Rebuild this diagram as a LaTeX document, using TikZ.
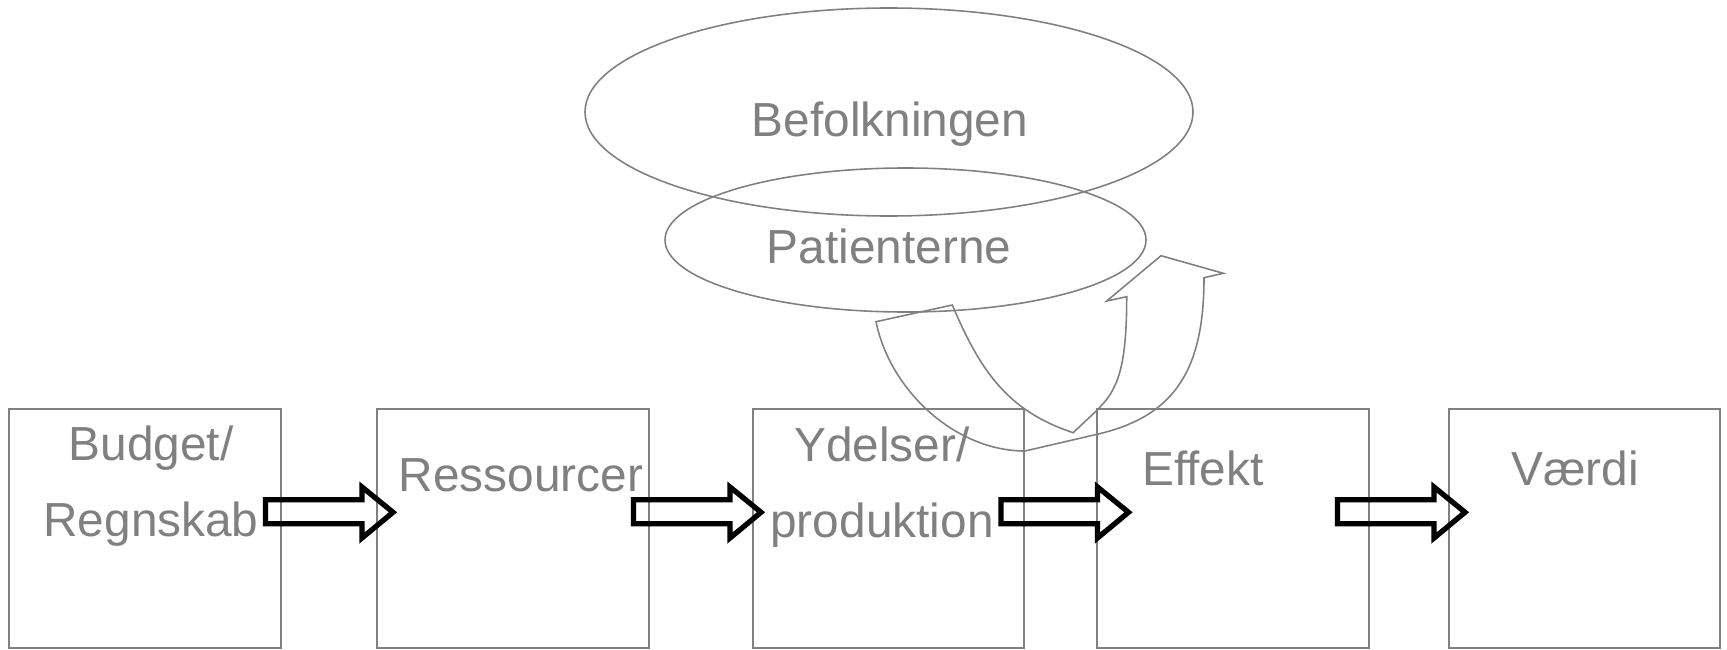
\documentclass[tikz,border=0pt]{standalone}
\usepackage{fontspec}
\setmainfont{Liberation Sans}
\definecolor{txtgray}{RGB}{128,128,128}
\definecolor{linegray}{RGB}{128,128,128}
\tikzset{
  lbl/.style={text=txtgray, inner sep=0pt, font=\fontsize{13.6}{21.6}\selectfont},
  frame/.style={draw=linegray, line width=0.45pt},
  blockarrow/.style={draw=black, line width=1.5pt, line join=miter}
}
\begin{document}
\begin{tikzpicture}
\useasboundingbox (0,0) rectangle (17.27,6.49);
% boxes
\draw[frame] (0.09,0.01) rectangle (2.81,2.40);
\draw[frame] (3.77,0.01) rectangle (6.49,2.40);
\draw[frame] (7.53,0.01) rectangle (10.24,2.40);
\draw[frame] (10.97,0.01) rectangle (13.69,2.40);
\draw[frame] (14.49,0.01) rectangle (17.20,2.40);
\node[lbl, align=center, anchor=base] (budget) at (1.51,1.123) {Budget/\\Regnskab};
\node[lbl, anchor=base] (ressourcer) at (5.21,1.573) {Ressourcer};
\node[lbl, align=center, anchor=base] (ydelser) at (8.82,1.12) {Ydelser/\\produktion};
\node[lbl, anchor=base] (effekt) at (12.03,1.64) {Effekt};
\node[lbl, anchor=base] (vaerdi) at (15.75,1.64) {Værdi};
% ellipses
\draw[frame] (8.89,5.37) ellipse (3.04 and 1.04);
\draw[frame] (9.055,4.09) ellipse (2.405 and 0.72);
\node[lbl, anchor=base] (befolkningen) at (8.90,5.13) {Befolkningen};
\node[lbl, anchor=base] (patienterne) at (8.89,3.86) {Patienterne};
% block arrows
\draw[blockarrow] (2.655,1.253) -- (3.62,1.253) -- (3.62,1.11) -- (3.93,1.367) -- (3.62,1.62) -- (3.62,1.493) -- (2.655,1.493) -- cycle;
\draw[blockarrow] (6.335,1.253) -- (7.30,1.253) -- (7.30,1.11) -- (7.61,1.367) -- (7.30,1.62) -- (7.30,1.493) -- (6.335,1.493) -- cycle;
\draw[blockarrow] (10.01,1.253) -- (10.975,1.253) -- (10.975,1.11) -- (11.285,1.367) -- (10.975,1.62) -- (10.975,1.493) -- (10.01,1.493) -- cycle;
\draw[blockarrow] (13.375,1.253) -- (14.34,1.253) -- (14.34,1.11) -- (14.65,1.367) -- (14.34,1.62) -- (14.34,1.493) -- (13.375,1.493) -- cycle;
% curved arrow
\draw[frame] (8.76,3.273) .. controls (8.90,2.587) and (9.55,1.98) .. (10.25,1.98) -- (10.983,2.15)
  .. controls (11.762,2.332) and (12.04,2.813) .. (12.04,3.713) -- (12.233,3.757) -- (11.61,3.933)
  -- (11.067,3.48) -- (11.267,3.523) .. controls (11.267,2.523) and (11.087,2.517) .. (10.733,2.163)
  .. controls (10.068,2.38) and (9.796,2.796) .. (9.523,3.44) -- cycle;
\end{tikzpicture}
\end{document}
